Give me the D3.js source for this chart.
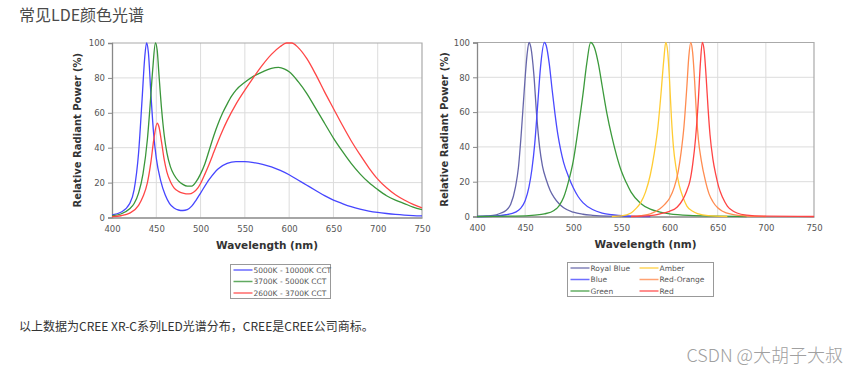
<!DOCTYPE html>
<html>
<head>
<meta charset="utf-8">
<script src="https://cdn.jsdelivr.net/npm/d3@7"></script>
<style>
  html, body { margin: 0; padding: 0; background: #fff; }
  svg { display: block; }
</style>
</head>
<body>
<svg id="chart" width="849" height="383"></svg>
<script>
// ---------------- DATA ----------------
const pageTitle = "常见LDE颜色光谱";
const footerText = "以上数据为CREE XR-C系列LED光谱分布，CREE是CREE公司商标。";
const watermark = "CSDN @大胡子大叔";

const xTicks = [400, 450, 500, 550, 600, 650, 700, 750];
const yTicks = [0, 20, 40, 60, 80, 100];
const xTitle = "Wavelength (nm)";
const yTitle = "Relative Radiant Power (%)";

// Left chart: white LED spectra  [wavelength nm, relative power %]
const cool5000 = [[400,1.5],[410,3],[420,8],[425,16],[430,37],[434,68],[437,92],[439,100],[441,95],[444,70],[447,48],[450,34],[455,21],[460,13],[465,8],[470,5.5],[475,4.3],[480,4],[485,4.5],[490,6.5],[495,10],[500,14],[510,22],[520,28],[530,31],[540,32],[550,32],[560,31.5],[570,30.5],[580,29],[590,27],[600,24.5],[610,21.5],[620,18.5],[630,15.5],[640,12.5],[650,10],[660,8],[670,6.2],[680,4.8],[690,3.7],[700,2.9],[710,2.3],[720,1.8],[730,1.4],[740,1.1],[750,0.9]];
const neutral3700 = [[400,1],[410,2],[420,5],[425,8],[430,14],[435,25],[440,45],[443,64],[446,85],[449,100],[451,96],[453,82],[456,62],[459,47],[462,37],[466,29],[470,24.5],[475,21],[480,19],[485,18],[490,18],[495,20.5],[500,25],[505,31],[510,39],[515,47],[520,54],[525,60],[530,65],[535,69.5],[540,73],[550,77.5],[560,81],[570,83.5],[580,85.5],[588,86],[595,85],[600,83.5],[610,78],[620,71],[630,62.5],[640,54],[650,45.5],[660,38],[670,31],[680,25],[690,20],[700,16],[710,12.5],[720,10],[730,8],[740,6],[750,4.5]];
const warm2600 = [[400,0.5],[410,1],[420,2.5],[430,7],[435,12],[440,20],[444,32],[447,44],[451,54],[453,52],[456,43],[459,33],[462,26],[466,20.5],[470,17],[475,15],[480,14],[487,13.5],[492,14.5],[497,17],[500,19.5],[505,25],[510,31],[515,37.5],[520,44],[525,50],[530,55.5],[540,65],[550,73],[560,80.5],[570,87.5],[580,93.5],[590,98],[597,100],[603,100],[610,97.5],[620,91],[630,82],[640,72],[650,62.5],[660,53],[670,44],[680,36],[690,28.5],[700,22],[710,17],[720,13],[730,10],[740,7.5],[750,5.5]];
const leftNames = ["5000K - 10000K CCT", "3700K - 5000K CCT", "2600K - 3700K CCT"];
const leftColors = ["#4646ff", "#3a963a", "#ff4646"];

// Right chart: colour LED spectra
const royalBlue = [[400,0],[410,0.3],[420,1],[425,2],[430,3.5],[435,7],[440,17],[443,28],[446,48],[449,72],[452,93],[454,100],[456,97],[459,82],[462,58],[465,40],[468,29],[472,21],[476,15],[480,11],[485,7.5],[490,5],[500,2.5],[510,1.3],[520,0.7],[535,0.2],[560,0]];
const blue = [[400,0],[420,0.3],[430,1],[440,2.5],[445,4.5],[450,9],[454,17],[457,27],[460,42],[463,64],[466,86],[470,100],[472,98],[475,88],[478,73],[481,59],[484,47],[487,38],[490,31],[495,23],[500,16.5],[505,11.5],[510,8],[520,4],[530,2],[540,1],[555,0.3],[580,0]];
const green = [[400,0],[440,0.2],[460,0.8],[470,1.5],[480,3.5],[485,6],[490,11],[495,20],[500,32],[505,50],[510,70],[514,88],[518,100],[522,97],[526,88],[530,75],[535,59],[540,46],[545,35],[550,26],[555,19.5],[560,14],[570,7.5],[580,4.2],[590,2.5],[600,1.5],[620,0.6],[650,0.2],[680,0]];
const amber = [[540,0],[550,0.3],[560,2],[565,4.5],[570,8],[575,14],[580,24],[584,36],[588,52],[591,70],[594,90],[596,100],[598,95],[600,78],[602,56],[604,40],[607,27],[610,18],[614,11],[618,6],[624,3],[630,1.5],[640,0.5],[660,0]];
const redOrange = [[560,0],[570,0.5],[580,1.5],[590,4.5],[595,7],[600,10.5],[605,17],[609,26],[612,37],[615,52],[618,75],[620,92],[622,100],[624,94],[626,78],[628,58],[630,44],[633,32],[637,21],[641,13],[645,8.5],[650,5],[655,3],[665,1.2],[680,0.3],[700,0]];
const red = [[560,0],[580,0.5],[590,1.5],[600,3],[608,5.5],[614,10],[618,15],[621,20],[624,30],[627,45],[630,68],[632,88],[634,100],[636,95],[638,80],[640,62],[642,47],[645,33],[648,24],[651,17],[655,11],[660,6],[665,3.5],[670,2],[680,0.8],[700,0.2],[750,0]];
const rightNames = ["Royal Blue", "Blue", "Green", "Amber", "Red-Orange", "Red"];
const rightColors = ["#6666aa", "#4a4aff", "#3c9a3c", "#ffcc33", "#ff8c50", "#ff4444"];

// ---------------- DRAW ----------------
const svg = d3.select("#chart");

svg.append("text").attr("x", 19).attr("y", 21)
  .attr("font-family", "'Noto Sans CJK SC', sans-serif").attr("font-size", 16)
  .attr("fill", "#4a4a4a").text(pageTitle);

svg.append("text").attr("x", 19).attr("y", 331)
  .attr("font-family", "'Noto Sans CJK SC', sans-serif").attr("font-size", 12)
  .attr("fill", "#333").text(footerText);

svg.append("text").attr("x", 843).attr("y", 362).attr("text-anchor", "end")
  .attr("font-family", "'Noto Sans CJK SC', sans-serif").attr("font-size", 18)
  .attr("font-weight", 300)
  .attr("fill", "#a0a0a0").text(watermark);

function drawPlot(cfg) {
  const x = d3.scaleLinear().domain([400, 750]).range([cfg.left, cfg.right]);
  const y = d3.scaleLinear().domain([0, 100]).range([cfg.bottom, cfg.top]);
  const g = svg.append("g");

  // grid
  g.append("g").selectAll("line").data(xTicks.slice(1, -1)).join("line")
    .attr("x1", d => x(d)).attr("x2", d => x(d))
    .attr("y1", cfg.top).attr("y2", cfg.bottom)
    .attr("stroke", "#dcdcdc").attr("stroke-width", 1);
  g.append("g").selectAll("line").data(yTicks.slice(1, -1)).join("line")
    .attr("y1", d => y(d)).attr("y2", d => y(d))
    .attr("x1", cfg.left).attr("x2", cfg.right)
    .attr("stroke", "#dcdcdc").attr("stroke-width", 1);

  // frame top/right
  g.append("path")
    .attr("d", `M${cfg.left},${cfg.top}H${cfg.right}V${cfg.bottom}`)
    .attr("fill", "none").attr("stroke", "#aaa").attr("stroke-width", 1.2);

  // axes
  const xAxis = d3.axisBottom(x).tickValues(xTicks).tickSize(0).tickPadding(8).tickFormat(d3.format("d"));
  const yAxis = d3.axisLeft(y).tickValues(yTicks).tickSize(4).tickPadding(3).tickFormat(d3.format("d"));
  const gx = g.append("g").attr("transform", `translate(0,${cfg.bottom})`).call(xAxis);
  const gy = g.append("g").attr("transform", `translate(${cfg.left},0)`).call(yAxis);
  [gx, gy].forEach(a => {
    a.select(".domain").attr("stroke", "#888").attr("stroke-width", 1.3);
    a.selectAll(".tick line").attr("stroke", "#888");
    a.selectAll("text").attr("font-family", "'DejaVu Sans', Verdana, sans-serif")
      .attr("font-size", 8.5).attr("fill", "#555");
  });

  // series
  const line = d3.line().x(d => x(d[0])).y(d => y(d[1])).curve(d3.curveMonotoneX);
  cfg.series.forEach((s, i) => {
    g.append("path").datum(s).attr("d", line)
      .attr("fill", "none").attr("stroke", cfg.colors[i]).attr("stroke-width", 1.3);
  });

  // titles
  g.append("text").attr("x", (cfg.left + cfg.right) / 2).attr("y", cfg.bottom + 31)
    .attr("text-anchor", "middle").attr("font-family", "'DejaVu Sans', Verdana, sans-serif")
    .attr("font-weight", "bold").attr("font-size", 10.5).attr("fill", "#333").text(xTitle);
  g.append("text")
    .attr("transform", `translate(${cfg.yTitleX},${(cfg.top + cfg.bottom) / 2}) rotate(-90)`)
    .attr("text-anchor", "middle").attr("font-family", "'DejaVu Sans', Verdana, sans-serif")
    .attr("font-weight", "bold").attr("font-size", 10).attr("fill", "#333").text(yTitle);

  // legend
  const L = cfg.legend;
  g.append("rect").attr("x", L.x).attr("y", L.y).attr("width", L.w).attr("height", L.h)
    .attr("fill", "#fff").attr("stroke", "#999").attr("stroke-width", 1);
  cfg.names.forEach((n, i) => {
    const col = Math.floor(i / L.rows), row = i % L.rows;
    const lx = L.x + 3 + col * L.colW, ly = L.y + 5.5 + row * 11.5;
    g.append("line").attr("x1", lx).attr("x2", lx + 19).attr("y1", ly).attr("y2", ly)
      .attr("stroke", cfg.colors[i]).attr("stroke-width", 1.5).attr("opacity", 0.8);
    g.append("text").attr("x", lx + 20).attr("y", ly + 2.7)
      .attr("font-family", "'DejaVu Sans', Verdana, sans-serif").attr("font-size", 7.5)
      .attr("fill", "#555").text(n);
  });
}

drawPlot({
  left: 112, right: 422, top: 43, bottom: 217.5, yTitleX: 81,
  series: [cool5000, neutral3700, warm2600], colors: leftColors, names: leftNames,
  legend: { x: 230.5, y: 264.5, w: 100, h: 34, rows: 3, colW: 0 }
});
drawPlot({
  left: 477, right: 814, top: 42.5, bottom: 216.5, yTitleX: 448,
  series: [royalBlue, blue, green, amber, redOrange, red], colors: rightColors, names: rightNames,
  legend: { x: 567.5, y: 262.5, w: 146, h: 34, rows: 3, colW: 69 }
});
</script>
</body>
</html>
